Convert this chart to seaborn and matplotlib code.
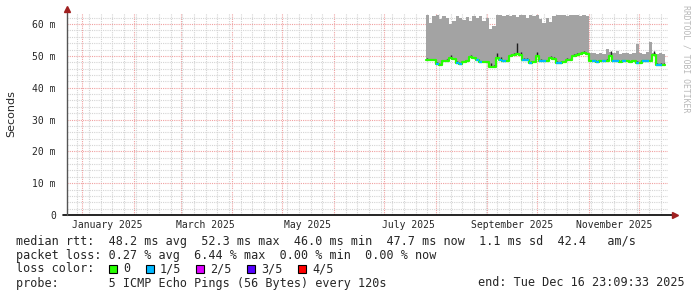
import numpy as np
import pandas as pd
import matplotlib
matplotlib.use("Agg")
import matplotlib.pyplot as plt
import matplotlib.dates as mdates
from matplotlib.patches import Rectangle
import seaborn as sns

# ---------------- data ----------------
sample_start = "2025-07-26"
sample_step = "2D"
graph_end = "2025-12-16 23:09:33"

median_ms = [48.8, 48.8, 48.6, 47.5, 47.3, 48.3, 48.3, 49.3, 49.0, 47.8,
             47.6, 48.0, 48.3, 49.6, 49.2, 48.6, 48.1, 48.1, 48.0, 46.6,
             46.4, 49.3, 48.6, 48.3, 48.3, 49.9, 50.2, 50.6, 50.4, 48.8,
             48.6, 47.8, 48.0, 49.9, 48.4, 48.3, 48.3, 49.3, 49.0, 47.8,
             47.8, 48.0, 48.8, 48.8, 50.0, 50.3, 50.6, 50.9, 50.5, 48.3,
             48.3, 48.0, 48.3, 48.3, 48.5, 49.9, 48.3, 48.3, 48.0, 48.3,
             48.3, 48.0, 48.3, 47.8, 47.8, 48.3, 48.3, 48.3, 50.2, 47.2,
             47.3, 47.2]

smoke_max_ms = [62.8, 60.4, 62.5, 62.8, 61.5, 62.7, 62.0, 60.0, 61.0, 62.6,
                62.0, 61.2, 62.3, 61.0, 62.5, 61.8, 62.4, 61.0, 62.0, 58.5,
                59.5, 62.8, 62.9, 62.5, 62.9, 62.7, 62.9, 62.2, 62.9, 62.8,
                62.0, 62.9, 62.7, 62.9, 61.5, 60.5, 62.0, 60.8, 62.5, 62.9,
                62.8, 62.9, 62.6, 62.9, 62.8, 62.9, 62.7, 62.9, 62.6, 51.0,
                50.8, 50.5, 51.0, 50.6, 52.3, 51.2, 50.8, 51.4, 50.6, 50.9,
                51.0, 50.5, 50.8, 53.8, 51.0, 50.7, 51.2, 54.3, 51.0, 50.6,
                50.8, 50.5]

dark_smoke_ms = [49.2, 49.1, 49.0, 48.0, 47.8, 48.8, 49.0, 50.2, 49.5, 48.3,
                 48.0, 48.4, 48.8, 50.3, 49.6, 49.0, 48.5, 48.5, 48.5, 47.8,
                 47.0, 51.0, 49.6, 48.8, 48.8, 50.5, 51.0, 54.0, 51.2, 49.3,
                 49.2, 48.4, 48.5, 51.3, 49.0, 48.8, 48.8, 50.0, 49.6, 48.4,
                 48.3, 48.5, 49.4, 49.2, 50.6, 50.8, 51.2, 51.6, 51.0, 48.8,
                 48.8, 48.5, 48.8, 48.8, 49.0, 51.5, 48.8, 48.8, 48.5, 48.8,
                 48.8, 48.5, 48.8, 48.3, 48.3, 48.8, 48.8, 48.8, 51.5, 47.8,
                 47.8, 47.7]

loss_fifths = [0, 0, 0, 1, 0, 0, 0, 0, 0, 1,
               1, 0, 0, 0, 0, 1, 1, 0, 0, 0,
               0, 0, 1, 1, 0, 0, 0, 0, 0, 1,
               1, 1, 0, 0, 1, 1, 0, 0, 0, 1,
               1, 0, 0, 0, 0, 0, 0, 0, 0, 0,
               1, 1, 0, 1, 0, 0, 1, 1, 0, 1,
               0, 0, 0, 1, 0, 1, 1, 0, 0, 1,
               1, 0]

loss_labels = ["0", "1/5", "2/5", "3/5", "4/5"]
loss_colors = ["#26ff00", "#00b8ff", "#dd00ff", "#5500ff", "#ff0000"]

month_labels = ["January 2025", "March 2025", "May 2025",
                "July 2025", "September 2025", "November 2025"]
month_label_starts = ["2025-01-01", "2025-03-01", "2025-05-01",
                      "2025-07-01", "2025-09-01", "2025-11-01"]
y_ticks = [0, 10, 20, 30, 40, 50, 60]
y_tick_labels = ["0", "10 m", "20 m", "30 m", "40 m", "50 m", "60 m"]

legend_lines = [
    "median rtt:  48.2 ms avg  52.3 ms max  46.0 ms min  47.7 ms now  1.1 ms sd  42.4   am/s",
    "packet loss: 0.27 % avg  6.44 % max  0.00 % min  0.00 % now",
]
probe_text = "probe:       5 ICMP Echo Pings (56 Bytes) every 120s"
end_text = "end: Tue Dec 16 23:09:33 2025"

# ---------------- build ----------------
dates = pd.date_range(sample_start, periods=len(median_ms), freq=sample_step)
t_end = pd.Timestamp(graph_end)
t_edges = list(dates) + [t_end]
df = pd.DataFrame({"time": t_edges,
                   "median": median_ms + [median_ms[-1]],
                   "top": smoke_max_ms + [smoke_max_ms[-1]],
                   "dark": dark_smoke_ms + [dark_smoke_ms[-1]]})

W, H = 697, 297
fig = plt.figure(figsize=(W / 100, H / 100), dpi=100)
sns.set_style("white")
plt.rcParams["font.family"] = ["DejaVu Sans Mono", "DejaVu Sans"]
fig.patch.set_facecolor("white")

left, right, top, bottom = 67, 668, 13, 215
ax = fig.add_axes([left / W, 1 - bottom / H, (right - left) / W, (bottom - top) / H])
ax.set_facecolor("white")

x0 = pd.Timestamp("2024-12-22 19:00")
x1 = pd.Timestamp("2025-12-18 12:00")
ax.set_xlim(x0, x1)
ax.set_ylim(0, 63.5)

# grid
ax.xaxis.set_major_locator(mdates.MonthLocator())
ax.xaxis.set_minor_locator(mdates.WeekdayLocator(byweekday=mdates.SU))
ax.set_yticks(y_ticks)
ax.set_yticks(np.arange(0, 64, 2), minor=True)
ax.grid(which="minor", color="#d4d4d4", lw=0.8, ls=(0, (1, 1)))
ax.grid(which="major", color="#f0a0a0", lw=0.8, ls=(0, (1, 1)))
ax.set_axisbelow(True)
ax.set_xticklabels([])
ax.set_yticklabels(y_tick_labels, fontsize=7, family="DejaVu Sans Mono")
ax.tick_params(axis="y", which="major", length=2, pad=6, color="#666666")
ax.tick_params(axis="y", which="minor", length=2, color="#999999")
ax.tick_params(axis="x", which="both", length=2, color="#999999")
for s in ax.spines.values():
    s.set_visible(False)

# smoke
ax.fill_between(df["time"], df["median"], df["top"], step="post",
                color="#a3a3a3", lw=0, zorder=2)
ax.vlines(dates + pd.Timedelta(hours=24), median_ms, dark_smoke_ms,
          color="#1e1e1e", lw=1.0, zorder=3)

# median line (loss coloured)
sns.lineplot(data=df, x="time", y="median", ax=ax, color=loss_colors[0],
             lw=1.6, drawstyle="steps-post", zorder=4)
for i, lv in enumerate(loss_fifths):
    if lv > 0:
        ax.hlines(median_ms[i], t_edges[i], t_edges[i + 1],
                  color=loss_colors[lv], lw=1.6, zorder=5)
ax.set_xlabel("")
ax.set_ylabel("")

# month labels (centred mid-month)
for lab, st in zip(month_labels, month_label_starts):
    ax.text(pd.Timestamp(st) + pd.Timedelta(days=15), -0.05, lab,
            transform=ax.get_xaxis_transform(), ha="center", va="center",
            fontsize=7, family="DejaVu Sans Mono")

# axes lines + arrows
ax.plot([-0.007, 1.008], [0, 0], transform=ax.transAxes, color="black",
        lw=1.2, clip_on=False, zorder=6)
ax.plot([0, 0], [0, 1.0], transform=ax.transAxes, color="#555555",
        lw=1.0, clip_on=False, zorder=6)
ax.plot([1.012], [0], marker=">", ms=4, color="#a02020", transform=ax.transAxes,
        clip_on=False, zorder=7)
ax.plot([0], [1.02], marker="^", ms=4, color="#a02020", transform=ax.transAxes,
        clip_on=False, zorder=7)

# y label
fig.text(11 / W, 1 - 114 / H, "Seconds", rotation=90, ha="center", va="center",
         fontsize=8, family="DejaVu Sans")
# side credit
fig.text(686 / W, 1 - 59 / H, "RRDTOOL / TOBI OETIKER", rotation=270,
         ha="center", va="center", fontsize=5.9, color="#b8b8b8",
         family="DejaVu Sans Mono")

# legend
fs = 8.5
fig.text(16 / W, 1 - 241 / H, legend_lines[0], ha="left", va="center", fontsize=fs)
fig.text(16 / W, 1 - 255 / H, legend_lines[1], ha="left", va="center", fontsize=fs)
fig.text(16 / W, 1 - 269 / H, "loss color:", ha="left", va="center", fontsize=fs)
box_x = [109, 146, 196, 247, 298]
for bx, lab, col in zip(box_x, loss_labels, loss_colors):
    fig.add_artist(Rectangle((bx / W, 1 - 273 / H), 8 / W, 8 / H,
                             transform=fig.transFigure, facecolor=col,
                             edgecolor="black", lw=0.8))
    fig.text((bx + 14) / W, 1 - 269 / H, lab, ha="left", va="center", fontsize=fs)
fig.text(16 / W, 1 - 283 / H, probe_text, ha="left", va="center", fontsize=fs)
fig.text(478 / W, 1 - 283 / H, end_text, ha="left", va="center", fontsize=fs)

fig.savefig("out.png", dpi=100, facecolor="white")
